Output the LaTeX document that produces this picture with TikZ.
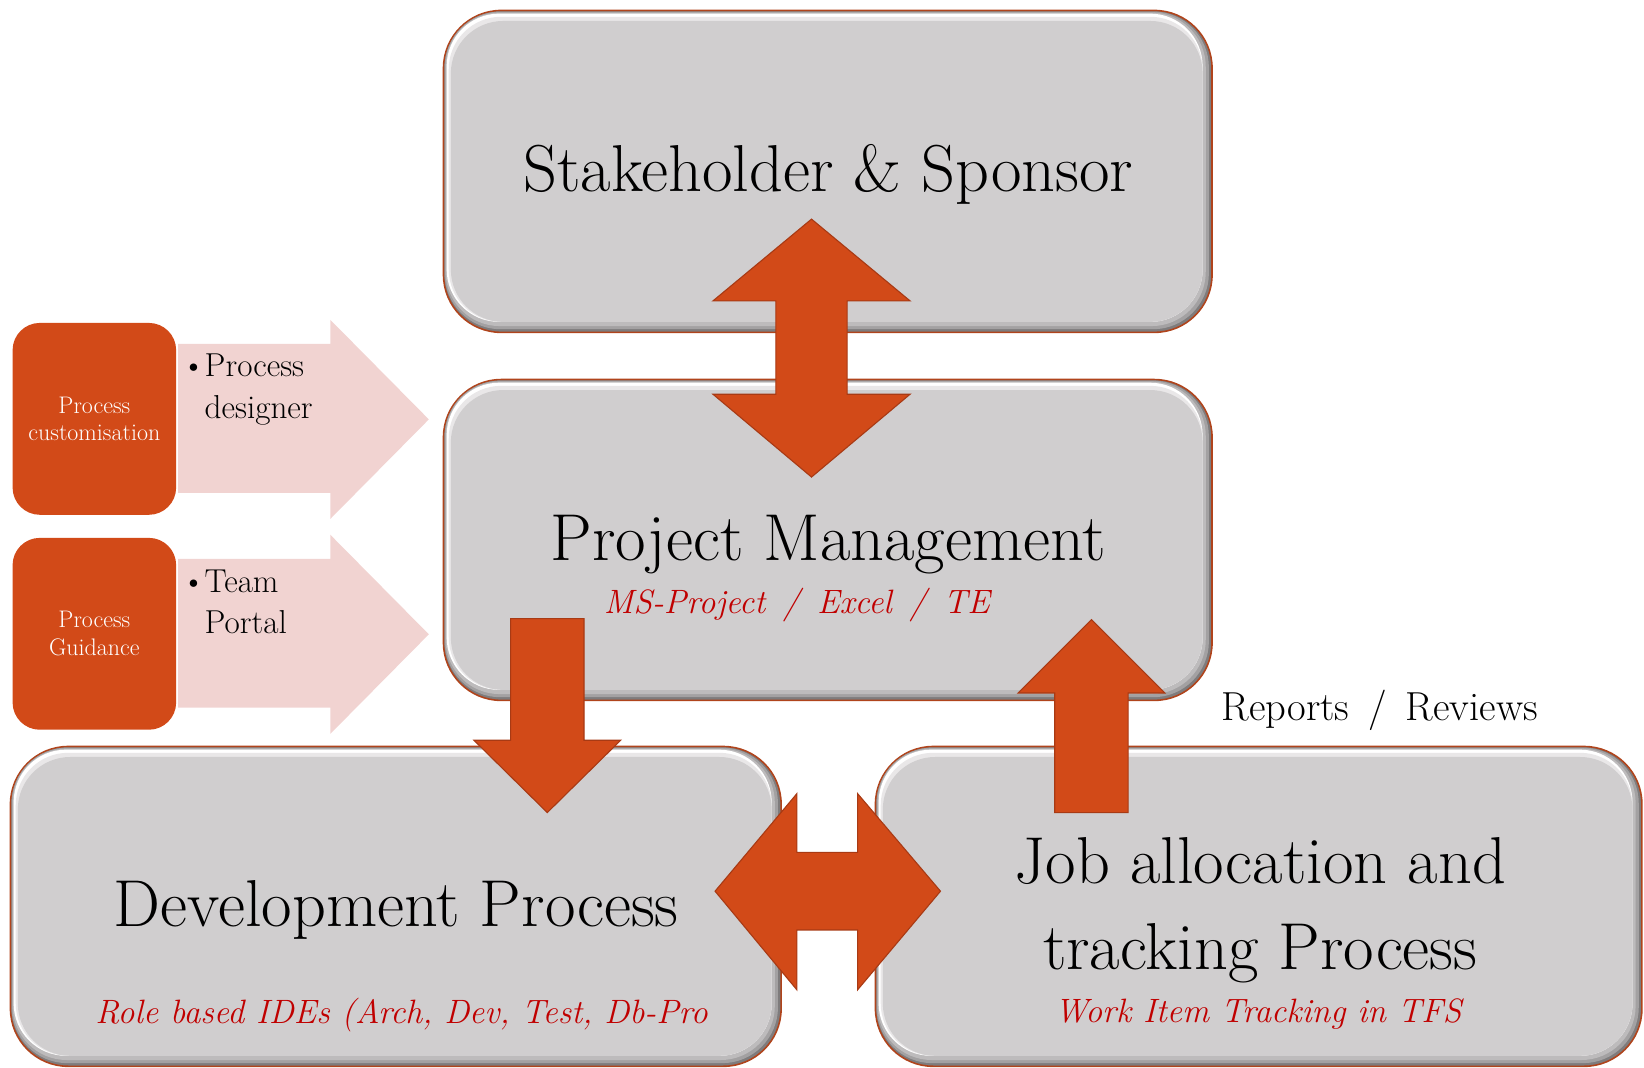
\documentclass[tikz,border=0pt]{standalone}
\usepackage{xcolor}
\definecolor{boxgray}{HTML}{D0CECF}
\definecolor{bevdark}{HTML}{7E7C7D}
\definecolor{bevmid}{HTML}{A3A1A2}
\definecolor{bevmid2}{HTML}{BDBBBC}
\definecolor{bevlight}{HTML}{E9E7E8}
\definecolor{boxborder}{HTML}{B0441C}
\definecolor{orangeA}{HTML}{D24A18}
\definecolor{orangeB}{HTML}{A83A14}
\definecolor{pinkA}{HTML}{F1D3D1}
\definecolor{redtxt}{HTML}{C00000}
\newcommand{\bevbox}[4]{%
  \filldraw[fill=bevdark, draw=boxborder, line width=1.3pt, rounded corners=16.5mm] (#1,#2) rectangle (#3,#4);
  \fill[bevmid, rounded corners=16mm] ({#1+1},{#2+1}) rectangle ({#3-3},{#4-3});
  \fill[bevmid2, rounded corners=15.5mm] ({#1+2},{#2+2}) rectangle ({#3-6},{#4-6});
  \fill[white, rounded corners=15mm] ({#1+3},{#2+3}) rectangle ({#3-9},{#4-10});
  \fill[bevlight, rounded corners=15mm] ({#1+5},{#2+6}) rectangle ({#3-9},{#4-10});
  \fill[boxgray, rounded corners=15mm] ({#1+7},{#2+10}) rectangle ({#3-9},{#4-10});
}
\tikzset{
  title/.style={anchor=base, font=\fontsize{54}{72}\selectfont, text=black, inner sep=0pt, align=center},
  sub/.style={anchor=base, font=\fontsize{27.5}{34}\selectfont\itshape, text=redtxt, inner sep=0pt},
  bigarrow/.style={fill=orangeA, draw=orangeB, line width=0.9pt, line join=miter},
  pinkarrow/.style={fill=pinkA},
  obox/.style={fill=orangeA, rounded corners=7.8mm},
  otext/.style={font=\fontsize{19.5}{22.5}\selectfont, text=white, align=center, inner sep=0pt},
  btext/.style={font=\fontsize{27}{32.4}\selectfont, anchor=base west, inner sep=0pt, align=left}
}
\begin{document}
\begin{tikzpicture}[x=0.3mm,y=-0.3mm]
\useasboundingbox (0,0) rectangle (1568,1018);
\clip (0,0) rectangle (1568,1018);

% main boxes
\bevbox{423}{10}{1156}{317}
\bevbox{423}{362}{1156}{668}
\bevbox{10}{712}{745}{1017}
\bevbox{835}{712}{1566}{1017}

% left orange boxes
\fill[obox] (12,308) rectangle (168,491);
\fill[obox] (12,513) rectangle (168,696);
\node[otext] (pc) at (90,399.5) {Process\\customisation};
\node[otext] (pg) at (90,604.5) {Process\\Guidance};

% pink arrows
\fill[pinkarrow] (170,328) -- (315,328) -- (315,305) -- (409,400) -- (315,495) -- (315,470) -- (170,470) -- cycle;
\fill[pinkarrow] (170,533) -- (315,533) -- (315,510) -- (409,605) -- (315,700) -- (315,675) -- (170,675) -- cycle;
\node[btext] (bul1) at (173,359) {\textbullet};
\node[btext] (b1) at (195,359) {Process};
\node[btext] (b1b) at (195,399) {designer};
\node[btext] (bul2) at (173,565) {\textbullet};
\node[btext] (b2) at (195,565) {Team};
\node[btext] (b2b) at (195,604) {Portal};

% vertical double arrow
\filldraw[bigarrow] (774,209) -- (868,287) -- (808,287) -- (808,376) -- (868,376) -- (774,455) -- (680,376) -- (740,376) -- (740,287) -- (680,287) -- cycle;
% down arrow
\filldraw[bigarrow] (487,590) -- (557,590) -- (557,706) -- (592,706) -- (522,775) -- (452,706) -- (487,706) -- cycle;
% up arrow
\filldraw[bigarrow] (1006,775) -- (1076,775) -- (1076,661) -- (1111,661) -- (1041,591) -- (971,661) -- (1006,661) -- cycle;
% horizontal double arrow
\filldraw[bigarrow] (682,850) -- (760,757) -- (760,813) -- (818,813) -- (818,757) -- (897,850) -- (818,944) -- (818,887) -- (760,887) -- (760,944) -- cycle;

% texts
\node[title] (stake) at (790,183) {Stakeholder \& Sponsor};
\node[title] (pm) at (790,535) {Project Management};
\node[sub] (pmsub) at (760,585) {MS-Project \,/\, Excel \,/\, TE};
\node[title] (dev) at (378,884) {Development Process};
\node[sub] (devsub) at (383,976) {Role based IDEs (Arch, Dev, Test, Db-Pro};
\node[title] (job1) at (1202,843) {Job allocation and};
\node[title] (job2) at (1202,925) {tracking Process};
\node[sub] (jobsub) at (1200,975) {Work Item Tracking in TFS};
\node[anchor=base, font=\fontsize{33}{38}\selectfont, inner sep=0pt] (rep) at (1316,687) {Reports \,/\, Reviews};
\end{tikzpicture}
\end{document}
